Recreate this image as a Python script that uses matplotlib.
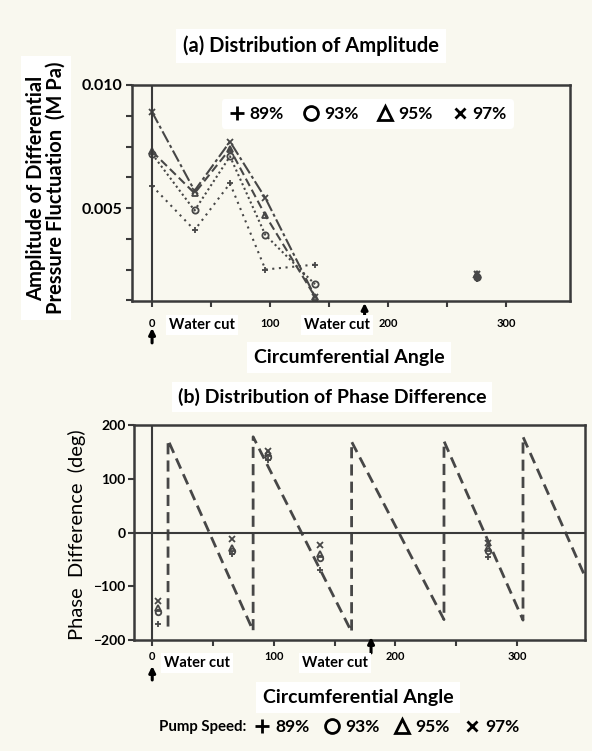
import numpy as np
import matplotlib.pyplot as plt
from matplotlib.lines import Line2D
from matplotlib.ticker import MultipleLocator, FixedLocator

plt.rcParams['font.family'] = ['Lato', 'DejaVu Sans']

# pump speeds
speeds = ['89%', '93%', '95%', '97%']
markers = ['+', 'o', '^', 'x']

# (a) amplitude vs circumferential angle (last point is the lone one near 275 deg)
amp_angle = [0, 36, 66, 96, 138, 275]
amp_89 = [0.0059, 0.0041, 0.0060, 0.0025, 0.0027, 0.0021]
amp_93 = [0.0072, 0.0049, 0.0071, 0.0039, 0.0019, 0.0022]
amp_95 = [0.0073, 0.0056, 0.0074, 0.0047, 0.0014, 0.0023]
amp_97 = [0.0089, 0.0057, 0.0077, 0.0054, 0.0014, 0.0023]

# (b) measured phase difference
phase_angle = [5, 66, 95, 138, 276]
phase_89 = [-170, -40, 135, -70, -46]
phase_93 = [-148, -35, 140, -47, -34]
phase_95 = [-140, -28, 148, -40, -28]
phase_97 = [-128, -12, 152, -24, -19]

# (b) theoretical sawtooth (dashed)
theory_angle = [13, 13, 83, 83, 164, 164, 240, 240, 305, 305, 358]
theory_phase = [-175, 172, -183, 178, -185, 169, -162, 170, -163, 178, -92]

water_cut_angle = [0, 180]

W, H = 592, 751
bg = '#f9f8ef'
ink = '#474747'

def fx(px):
    return px / W

def fy(py):
    return 1 - py / H

fig = plt.figure(figsize=(W / 100, H / 100), dpi=100, facecolor=bg)

ax1 = fig.add_axes([fx(132), fy(301), (570 - 132) / W, (301 - 85) / H], facecolor=bg)
ax2 = fig.add_axes([fx(134), fy(640), (585 - 134) / W, (640 - 425) / H], facecolor=bg)

for ax in (ax1, ax2):
    for s in ax.spines.values():
        s.set_color('#3a3a3a')
        s.set_linewidth(1.8)
    ax.tick_params(which='both', direction='out', length=4, width=1.5, color='#3a3a3a')

# ---- (a) amplitude ----
amp_series = [amp_89, amp_93, amp_95, amp_97]
styles = [(0, (1, 2.2)), (0, (1, 1.4)), (0, (4, 2)), (0, (6, 1.5, 1.5, 1.5))]
for vals, m, ls, lab in zip(amp_series, markers, styles, speeds):
    ax1.plot(amp_angle[:5], vals[:5], color=ink, lw=1.5, ls=ls, marker=m,
             ms=4.5, mew=1.3, mfc='none', label=lab)
    ax1.plot(amp_angle[5:], vals[5:], color=ink, lw=0, marker=m, ms=4.5,
             mew=1.5, mfc='none')
ax1.axvline(0, color='#3a3a3a', lw=1.5)
ax1.set_xlim(-17, 354)
ax1.set_ylim(0.00122, 0.010)
ax1.set_xticks([0, 100, 200, 300])
ax1.set_xticks([50, 150, 250], minor=True)
ax1.set_xticklabels(['0', '100', '200', '300'], fontsize=8, fontweight='bold')
ax1.yaxis.set_major_locator(FixedLocator([0.005, 0.010]))
ax1.yaxis.set_minor_locator(MultipleLocator(0.00125))
ax1.set_yticklabels(['0.005', '0.010'], fontsize=11.5, fontweight='bold')
ax1.tick_params(axis='x', which='both', pad=8)
ax1.tick_params(axis='y', pad=3)

# ---- (b) phase difference ----
ax2.plot(theory_angle, theory_phase, color=ink, lw=2, ls=(0, (4, 2.2)))
phase_series = [phase_89, phase_93, phase_95, phase_97]
for vals, m in zip(phase_series, markers):
    ax2.plot(phase_angle, vals, color=ink, lw=0, marker=m, ms=4, mew=1.3, mfc='none')
ax2.axhline(0, color='#3a3a3a', lw=1.5)
ax2.axvline(0, color='#3a3a3a', lw=1.5)
ax2.set_xlim(-15, 356)
ax2.set_ylim(-200, 200)
ax2.set_xticks([0, 100, 200, 300])
ax2.set_xticks([50, 150, 250], minor=True)
ax2.set_xticklabels(['0', '100', '200', '300'], fontsize=8, fontweight='bold')
ax2.set_yticks([-200, -100, 0, 100, 200])
ax2.set_yticklabels(['\u2212200', '\u2212100', '0', '100', '200'], fontsize=10, fontweight='bold')
ax2.tick_params(axis='x', which='both', pad=4)
ax2.tick_params(axis='y', pad=2)

# water cut arrows
arrow_kw = dict(arrowstyle='-|>', lw=2.2, color='black', mutation_scale=9, shrinkA=0, shrinkB=0)
top_tails = [(-0.194, -0.125), (-0.088, -0.009)]
bot_tails = [(-0.186, -0.121), (-0.060, 0.014)]
for a, (y0, y1) in zip(water_cut_angle, top_tails):
    ax1.annotate('', xy=(a, y1), xytext=(a, y0), xycoords=ax1.get_xaxis_transform(),
                 arrowprops=arrow_kw, annotation_clip=False)
for a, (y0, y1) in zip(water_cut_angle, bot_tails):
    ax2.annotate('', xy=(a, y1), xytext=(a, y0), xycoords=ax2.get_xaxis_transform(),
                 arrowprops=arrow_kw, annotation_clip=False)

box = dict(facecolor='white', edgecolor='none', pad=2)
for x, y in [(202, 325), (337, 325), (197, 663), (335, 663)]:
    fig.text(fx(x), fy(y), 'Water cut', fontsize=10.5, fontweight='bold',
             ha='center', va='center', bbox=box)

# titles and axis labels
fig.text(fx(311), fy(46), '(a) Distribution of Amplitude', fontsize=14.5, fontweight='bold',
         ha='center', va='center', bbox=dict(facecolor='white', edgecolor='none', pad=5))
fig.text(fx(332), fy(397), '(b) Distribution of Phase Difference', fontsize=14,
         fontweight='bold', ha='center', va='center',
         bbox=dict(facecolor='white', edgecolor='none', pad=4))
fig.text(fx(46), fy(188), 'Amplitude of Differential\nPressure Fluctuation  (M Pa)',
         rotation=90, fontsize=14.5, fontweight='bold', ha='center', va='center',
         linespacing=0.95, bbox=dict(facecolor='white', edgecolor='none', pad=4))
fig.text(fx(77), fy(535), 'Phase  Difference  (deg)', rotation=90, fontsize=14.5,
         ha='center', va='center')
fig.text(fx(349), fy(357), 'Circumferential Angle', fontsize=14, fontweight='bold',
         ha='center', va='center', bbox=dict(facecolor='white', edgecolor='none', pad=5))
fig.text(fx(358), fy(697), 'Circumferential Angle', fontsize=14, fontweight='bold',
         ha='center', va='center', bbox=dict(facecolor='white', edgecolor='none', pad=5))

# legends
handles = [Line2D([], [], color='black', lw=0, marker=m, ms=10 if m != 'x' else 7,
                  mew=2, mfc='none') for m in markers]
leg1 = ax1.legend(handles, speeds, ncol=4, loc='center left',
                  bbox_to_anchor=(fx(222), fy(114)), bbox_transform=fig.transFigure,
                  prop=dict(size=12.5, weight='bold'), frameon=True, handlelength=0.9,
                  handletextpad=0.3, columnspacing=1.1, borderpad=0.4, borderaxespad=0)
leg1.get_frame().set_facecolor('white')
leg1.get_frame().set_edgecolor('none')
leg1.get_frame().set_alpha(1)

fig.text(fx(159), fy(727), 'Pump Speed:', fontsize=10.8, fontweight='bold',
         ha='left', va='center')
leg2 = fig.legend(handles, speeds, ncol=4, loc='center left',
                  bbox_to_anchor=(fx(251), fy(727)), prop=dict(size=12.5, weight='bold'),
                  frameon=False, handlelength=0.9, handletextpad=0.3, columnspacing=0.85,
                  borderpad=0.2, borderaxespad=0)

fig.savefig('out.png', dpi=100, facecolor=bg)
